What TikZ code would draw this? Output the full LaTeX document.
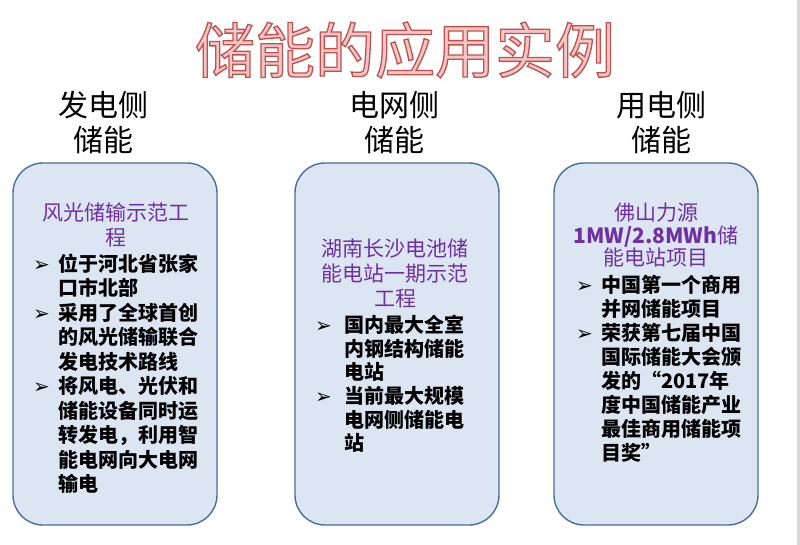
\documentclass[tikz,border=0pt]{standalone}
\usepackage{fontspec}
\setmainfont{Noto Sans CJK SC}
\newfontfamily\symfont{DejaVu Sans}
\usetikzlibrary{positioning}
\definecolor{boxfill}{HTML}{DCE6F2}
\definecolor{boxedge}{HTML}{4A6E9A}
\definecolor{casepurple}{HTML}{7030A0}
\definecolor{titlefill}{HTML}{F2C6C5}
\definecolor{stripgray}{HTML}{D9D9D9}
\newcommand\bul[1][25pt]{\makebox[#1][l]{\symfont ➢}}
\newcommand\ind[1][25pt]{\hspace*{#1}}
% contour du titre (mode de rendu 2 = remplir puis tracer)
\newcommand\outlined[1]{\special{pdf:literal direct 2 Tr 1.3 w 0.753 0.314 0.302 RG}#1\special{pdf:literal direct 0 Tr}}

\begin{document}
\begin{tikzpicture}[
      x=1pt, y=-1pt, inner sep=0pt,
      side/.style={align=center,font=\fontsize{30}{35}\selectfont},
      casebox/.style={draw=boxedge,fill=boxfill,line width=1.4pt,rounded corners=30pt,
        minimum width=204pt,minimum height=362pt},
      casetitle/.style={align=center,text=casepurple,font=\fontsize{21}{25}\selectfont},
      caselist/.style={align=left,anchor=west,font=\fontsize{20}{24.5}\selectfont\bfseries}
      ]
      \path[use as bounding box] (0,0) rectangle (800,545);
      \fill[stripgray] (797,0) rectangle (800,545);

      \path node[text=titlefill,font=\fontsize{60}{60}\selectfont] (title) at (405,50)
        {\outlined{储能的应用实例}};

      % trois colonnes
      \path node[side] (gen) at (103,122.5) {发电侧\\储能};
      \path node[side] (grid) at (394,122.5) {电网侧\\储能};
      \path node[side] (user) at (661,122.5) {用电侧\\储能};

      \path node[casebox] (box1) at (115,344) {};
      \path node[casebox] (box2) at (397,344) {};
      \path node[casebox] (box3) at (656,344) {};

      \path node[casetitle] (case1) at (116,225) {风光储输示范工\\程};
      \path node[caselist] (list1) at (33,373.5) {\bul 位于河北省张家\\
        \ind 口市北部\\
        \bul 采用了全球首创\\
        \ind 的风光储输联合\\
        \ind 发电技术路线\\
        \bul 将风电、光伏和\\
        \ind 储能设备同时运\\
        \ind 转发电，利用智\\
        \ind 能电网向大电网\\
        \ind 输电};

      \path node[casetitle] (case2) at (395,273) {湖南长沙电池储\\能电站一期示范\\工程};
      \path node[caselist,font=\fontsize{20}{23.6}\selectfont\bfseries] (list2) at (315,384)
        {\bul[29pt]国内最大全室\\
        \ind[29pt]内钢结构储能\\
        \ind[29pt]电站\\
        \bul[29pt]当前最大规模\\
        \ind[29pt]电网侧储能电\\
        \ind[29pt]站};

      \path node[casetitle,font=\fontsize{21}{22.5}\selectfont] (case3) at (656,235.5)
        {佛山力源\\\textbf{1MW/2.8MWh}储\\能电站项目};
      \path node[caselist,font=\fontsize{20}{24}\selectfont\bfseries] (list3) at (576,369)
        {\bul 中国第一个商用\\
        \ind 并网储能项目\\
        \bul 荣获第七届中国\\
        \ind 国际储能大会颁\\
        \ind 发的“2017年\\
        \ind 度中国储能产业\\
        \ind 最佳商用储能项\\
        \ind 目奖”};
    \end{tikzpicture}
\end{document}
